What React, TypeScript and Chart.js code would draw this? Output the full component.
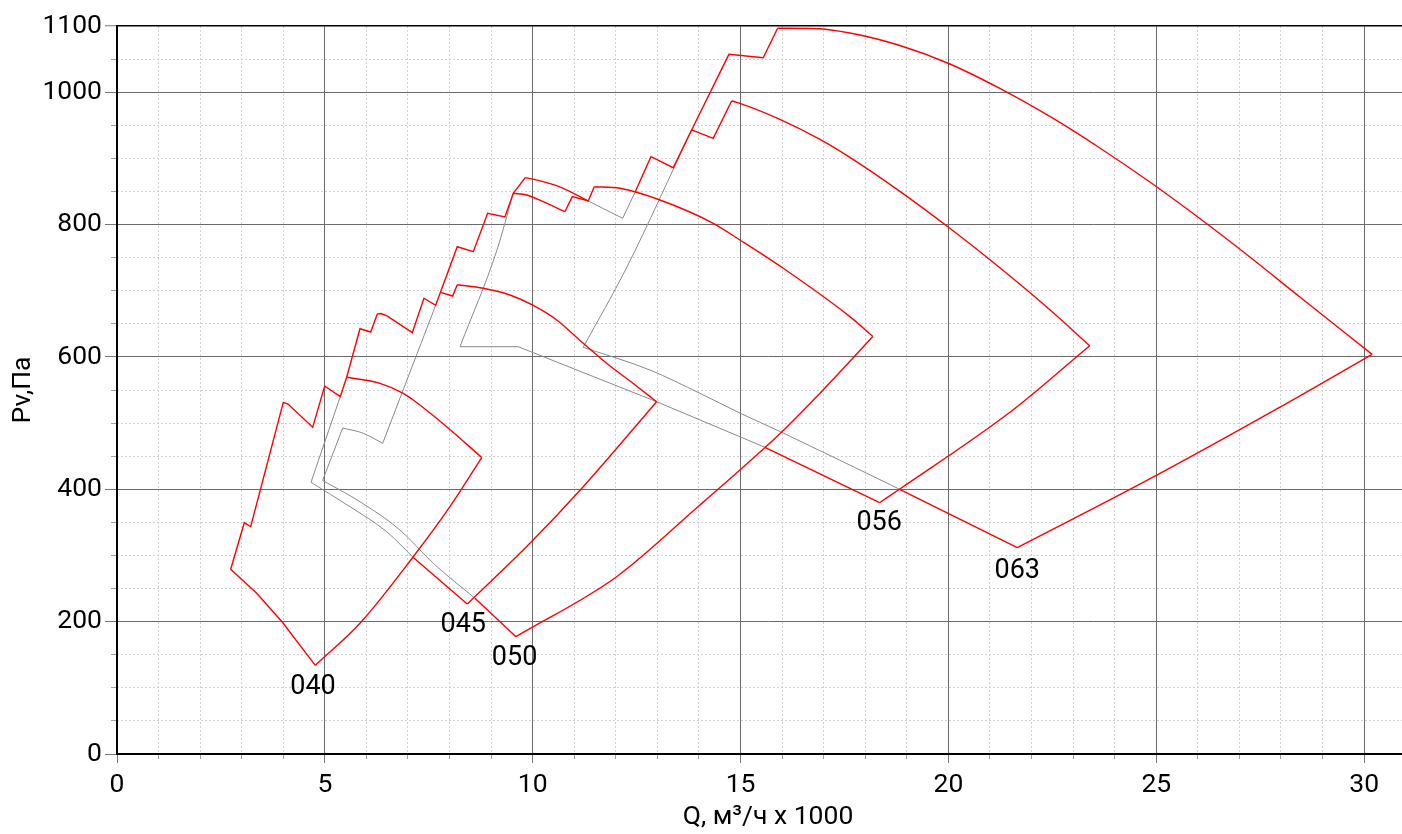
import React, { useEffect, useRef } from 'react';
import { Chart, registerables } from 'chart.js';

Chart.register(...registerables);

const VIEW_W = 1402;
const W = 1419;
const H = 834;
const FONT = 'Roboto';
const RED = '#ff0000';
const GRAY = '#8a8a8a';

const X_MAX = 31.32;
const Y_MAX = 1100;
const xMajorTicks = [0, 5, 10, 15, 20, 25, 30];
const xMinorTicks = [1, 2, 3, 4, 6, 7, 8, 9, 11, 12, 13, 14, 16, 17, 18, 19, 21, 22, 23, 24, 26, 27, 28, 29, 31];
const yMajorTicks = [0, 200, 400, 600, 800, 1000, 1100];
const yMinorTicks = [50, 100, 150, 250, 300, 350, 450, 500, 550, 650, 700, 750, 850, 900, 950, 1050];

const xTitle = 'Q, м³/ч x 1000';
const yTitle = 'Pv,Па';

// ---- size 040 (red) ----
const r040EdgeQ = [4.770, 3.969, 3.360, 2.735, 3.062, 3.216, 4.000, 4.113, 4.707, 4.996, 5.371, 5.525];
const r040EdgeP = [134.0, 199.9, 242.8, 279.1, 349.5, 343.4, 531.4, 528.8, 493.6, 556.0, 539.9, 569.2];
const r040TopQ = [5.525, 6.326, 6.886, 7.127, 7.930, 8.772];
const r040TopP = [569.2, 560.1, 545.0, 534.9, 494.5, 448.0];
const r040RightQ = [4.770, 5.845, 7.127, 8.009, 8.772];
const r040RightP = [134.0, 197.5, 298.1, 373.7, 448.0];

// ---- staircase above 040 and the upper short curve (red) ----
const rStairQ = [5.525, 5.845, 6.102, 6.261, 6.350, 6.487, 7.103, 7.384, 7.665, 8.185, 8.570, 8.916, 9.332, 9.532, 9.820];
const rStairP = [569.2, 642.6, 637.6, 664.8, 665.6, 662.3, 636.6, 688.6, 678.0, 766.5, 759.0, 817.0, 811.4, 847.2, 870.8];
const rCap870Q = [9.820, 10.253, 10.734, 11.336];
const rCap870P = [870.8, 864.8, 854.8, 835.6];

// ---- size 045 (red) ----
const r045StepQ = [7.786, 8.074, 8.185];
const r045StepP = [697.6, 692.0, 709.1];
const r045TopQ = [8.185, 8.810, 9.452, 10.013, 10.576, 11.215, 11.778, 12.418, 12.981];
const r045TopP = [709.1, 703.7, 693.5, 677.7, 655.8, 620.6, 590.3, 559.8, 532.3];
const r045RightQ = [8.425, 9.933, 11.215, 12.981];
const r045RightP = [226.6, 318.4, 403.9, 532.3];
const r045BottomQ = [7.127, 8.425];
const r045BottomP = [296.9, 226.6];

// ---- size 050 (red) ----
const r050BottomQ = [8.611, 9.597];
const r050BottomP = [235.3, 177.2];
const r050RightQ = [9.597, 12.019, 14.022, 14.984, 15.958, 16.829, 18.183];
const r050RightP = [177.2, 267.9, 376.2, 429.1, 484.6, 539.9, 630.8];
const r050TopQ = [11.480, 12.098, 13.060, 14.342, 14.984, 16.026, 17.630, 18.183];
const r050TopP = [857.2, 854.8, 837.1, 801.9, 776.7, 733.9, 660.8, 630.8];
const r050CapQ = [9.532, 9.854, 10.253, 10.775];
const r050CapP = [847.2, 844.6, 834.5, 819.4];
const r050StepQ = [10.775, 10.951, 11.336, 11.480];
const r050StepP = [819.4, 842.1, 835.6, 857.2];

// ---- size 056 (red) ----
const r056BottomQ = [15.586, 18.344];
const r056BottomP = [463.4, 379.7];
const r056RightQ = [18.344, 18.857, 21.551, 23.398];
const r056RightP = [379.7, 401.5, 519.8, 616.9];
const r056TopQ = [14.785, 14.984, 15.946, 16.909, 17.630, 18.833, 20.035, 21.238, 22.440, 23.398];
const r056TopP = [986.7, 983.2, 959.0, 928.8, 901.6, 850.2, 794.3, 734.6, 671.2, 616.9];
const r056StepQ = [12.459, 12.844, 13.380, 13.823, 14.342, 14.785];
const r056StepP = [848.4, 902.5, 885.9, 942.9, 930.3, 986.7];

// ---- size 063 (red) ----
const r063BottomQ = [18.828, 21.656];
const r063BottomP = [400.0, 311.7];
const r063RightQ = [21.656, 24.774, 27.997, 30.192];
const r063RightP = [311.7, 413.3, 524.8, 603.9];
const r063TopQ = [15.891, 16.740, 17.630, 18.833, 20.035, 21.238, 22.440, 23.643, 24.846, 26.048, 27.251, 28.454, 30.192];
const r063TopP = [1096.5, 1096.2, 1089.4, 1070.5, 1042.6, 1005.6, 963.3, 915.7, 864.3, 809.1, 751.0, 690.5, 603.9];
const r063StepQ = [13.823, 14.720, 15.545, 15.891];
const r063StepP = [942.9, 1057.2, 1052.1, 1096.5];

// ---- gray hidden boundaries ----
const g1aQ = [4.666, 5.371];
const g1aP = [410.5, 539.9];
const g1bQ = [4.666, 5.604, 6.487, 7.127];
const g1bP = [410.5, 373.7, 335.9, 296.9];
const g2aQ = [4.947, 5.429];
const g2aP = [413.3, 492.6];
const g2bQ = [5.429, 5.924, 6.391];
const g2bP = [492.6, 484.6, 469.5];
const g2cQ = [6.391, 7.665];
const g2cP = [469.5, 678.0];
const g2dQ = [4.947, 5.845, 6.807, 7.608, 8.611];
const g2dP = [413.3, 381.2, 338.5, 288.1, 235.3];
const g3aQ = [8.250, 9.140, 9.532];
const g3aP = [615.4, 761.5, 847.2];
const g3bQ = [8.250, 9.652, 12.981, 14.984, 15.586];
const g3bP = [615.4, 615.4, 532.3, 479.4, 463.4];
const g4Q = [11.336, 12.163, 12.459];
const g4P = [835.6, 809.4, 848.4];
const g5aQ = [11.215, 12.254, 13.823];
const g5aP = [614.5, 734.3, 942.9];
const g5bQ = [11.215, 12.820, 14.022, 14.984, 15.958, 18.828];
const g5bP = [614.5, 580.2, 545.0, 515.2, 487.0, 400.0];

// size labels (text centre / baseline)
const sizeLabels = ['040', '045', '050', '056', '063'];
const labelQ = [4.714, 8.329, 9.565, 18.335, 21.656];
const labelP = [91.4, 184.8, 134.5, 338.5, 265.4];

const pts = (q: number[], p: number[]) => q.map((v, i) => ({ x: v, y: p[i] }));

export default function App() {
  const ref = useRef<HTMLCanvasElement>(null);

  useEffect(() => {
    const canvas = ref.current;
    if (!canvas) return;

    const line = (q: number[], p: number[], color: string, curved: boolean) => ({
      data: pts(q, p),
      showLine: true,
      borderColor: color,
      backgroundColor: color,
      borderWidth: color === RED ? 1.4 : 1,
      pointRadius: 0,
      pointHoverRadius: 0,
      fill: false,
      tension: curved ? 0.4 : 0,
      cubicInterpolationMode: curved ? 'monotone' : 'default',
    });

    const datasets = [
      line(r040EdgeQ, r040EdgeP, RED, false),
      line(r040TopQ, r040TopP, RED, true),
      line(r040RightQ, r040RightP, RED, true),
      line(rStairQ, rStairP, RED, false),
      line(rCap870Q, rCap870P, RED, true),
      line(r045StepQ, r045StepP, RED, false),
      line(r045TopQ, r045TopP, RED, true),
      line(r045RightQ, r045RightP, RED, true),
      line(r045BottomQ, r045BottomP, RED, false),
      line(r050BottomQ, r050BottomP, RED, false),
      line(r050RightQ, r050RightP, RED, true),
      line(r050TopQ, r050TopP, RED, true),
      line(r050CapQ, r050CapP, RED, true),
      line(r050StepQ, r050StepP, RED, false),
      line(r056BottomQ, r056BottomP, RED, false),
      line(r056RightQ, r056RightP, RED, true),
      line(r056TopQ, r056TopP, RED, true),
      line(r056StepQ, r056StepP, RED, false),
      line(r063BottomQ, r063BottomP, RED, false),
      line(r063RightQ, r063RightP, RED, true),
      line(r063TopQ, r063TopP, RED, true),
      line(r063StepQ, r063StepP, RED, false),
      line(g1aQ, g1aP, GRAY, false),
      line(g1bQ, g1bP, GRAY, true),
      line(g2aQ, g2aP, GRAY, false),
      line(g2bQ, g2bP, GRAY, true),
      line(g2cQ, g2cP, GRAY, false),
      line(g2dQ, g2dP, GRAY, true),
      line(g3aQ, g3aP, GRAY, true),
      line(g3bQ, g3bP, GRAY, false),
      line(g4Q, g4P, GRAY, false),
      line(g5aQ, g5aP, GRAY, true),
      line(g5bQ, g5bP, GRAY, true),
    ];

    const labelPlugin = {
      id: 'sizeLabels',
      afterDatasetsDraw(chart: any) {
        const { ctx, scales } = chart;
        ctx.save();
        ctx.font = `27px ${FONT}`;
        ctx.fillStyle = '#000';
        ctx.textAlign = 'center';
        ctx.textBaseline = 'alphabetic';
        sizeLabels.forEach((t, i) => {
          ctx.fillText(t, scales.x.getPixelForValue(labelQ[i]), scales.y.getPixelForValue(labelP[i]));
        });
        ctx.restore();
      },
    };

    const tickFont = { family: FONT, size: 26.5 };
    const titleFont = { family: FONT, size: 26.5 };
    const plain = (v: any) => String(v);

    const chart = new Chart(canvas, {
      type: 'scatter',
      data: { datasets: datasets as any },
      plugins: [labelPlugin],
      options: {
        animation: false,
        responsive: false,
        devicePixelRatio: 1,
        layout: { padding: { top: 26, right: 0, left: 0, bottom: 0 } },
        plugins: { legend: { display: false }, tooltip: { enabled: false } },
        scales: {
          xMinor: {
            type: 'linear',
            position: 'bottom',
            weight: 0,
            min: 0,
            max: X_MAX,
            afterBuildTicks: (s: any) => { s.ticks = xMinorTicks.map((v) => ({ value: v })); },
            afterFit: (s: any) => { s.height = 0; },
            grid: { color: '#d2d2d2', lineWidth: 1, tickLength: 5, tickColor: '#a0a0a0' },
            border: { display: false, dash: [2, 2] },
            ticks: { display: false },
          },
          x: {
            type: 'linear',
            position: 'bottom',
            weight: 1,
            min: 0,
            max: X_MAX,
            afterBuildTicks: (s: any) => { s.ticks = xMajorTicks.map((v) => ({ value: v })); },
            afterFit: (s: any) => { s.height = H - 754; },
            grid: {
              color: (c: any) => (c.tick && c.tick.value === 0 ? 'rgba(0,0,0,0)' : '#6a6a6a'),
              lineWidth: 1,
              tickLength: 9,
              tickColor: '#777',
            },
            border: { color: '#000', width: 2 },
            ticks: { font: tickFont, color: '#000', padding: 6, maxRotation: 0, autoSkip: false, callback: plain },
            title: { display: true, text: xTitle, font: titleFont, color: '#000', padding: { top: 0, bottom: 1 } },
          },
          yMinor: {
            type: 'linear',
            position: 'left',
            weight: 0,
            min: 0,
            max: Y_MAX,
            afterBuildTicks: (s: any) => { s.ticks = yMinorTicks.map((v) => ({ value: v })); },
            afterFit: (s: any) => { s.width = 0; },
            grid: { color: '#d2d2d2', lineWidth: 1, tickLength: 6, tickColor: '#a0a0a0' },
            border: { display: false, dash: [2, 2] },
            ticks: { display: false },
          },
          y: {
            type: 'linear',
            position: 'left',
            weight: 1,
            min: 0,
            max: Y_MAX,
            afterBuildTicks: (s: any) => { s.ticks = yMajorTicks.map((v) => ({ value: v })); },
            afterFit: (s: any) => { s.width = 117; },
            grid: {
              color: (c: any) => {
                const v = c.tick ? c.tick.value : -1;
                if (v === 0) return 'rgba(0,0,0,0)';
                if (v === Y_MAX) return '#000';
                return '#6a6a6a';
              },
              lineWidth: (c: any) => (c.tick && c.tick.value === Y_MAX ? 1.5 : 1),
              tickLength: 12,
              tickColor: '#777',
              tickWidth: 1,
            },
            border: { color: '#000', width: 2 },
            ticks: { font: tickFont, color: '#000', padding: 3, autoSkip: false, callback: plain },
            title: { display: true, text: yTitle, font: titleFont, color: '#000', padding: { top: 7, bottom: 0 } },
          },
        },
      } as any,
    });

    return () => chart.destroy();
  }, []);

  return (
    <div style={{ position: 'fixed', left: 0, top: 0, width: VIEW_W, height: H, background: '#fff', overflow: 'hidden' }}>
      <canvas ref={ref} width={W} height={H} style={{ display: 'block', width: W, height: H }} />
    </div>
  );
}
